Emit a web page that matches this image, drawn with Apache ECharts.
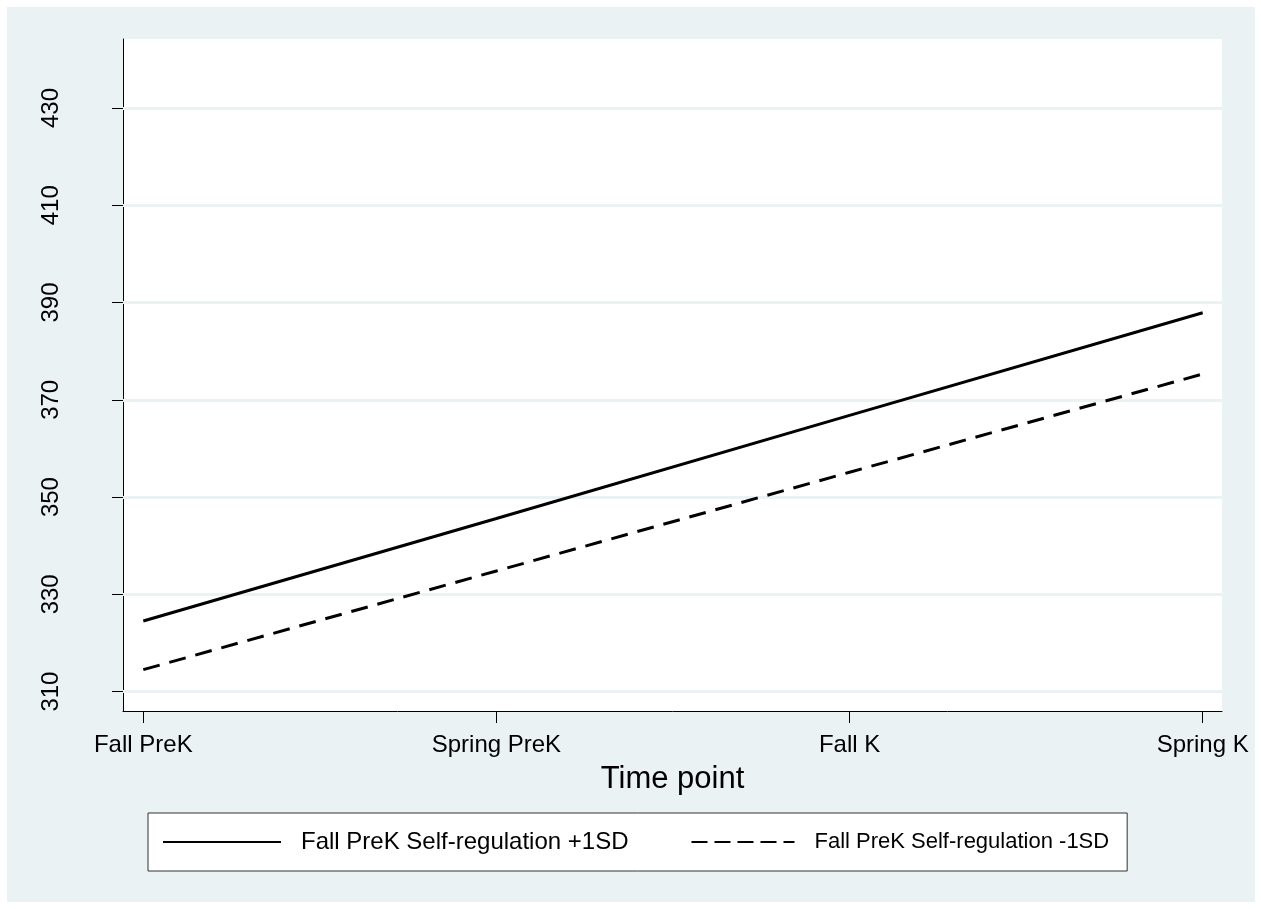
<!DOCTYPE html>
<html>
<head>
<meta charset="utf-8">
<script src="https://cdn.jsdelivr.net/npm/echarts@6/dist/echarts.min.js"></script>
<style>
  html, body { margin: 0; padding: 0; background: #fff; }
  #chart { width: 1261px; height: 909px; }
</style>
</head>
<body>
<div id="chart"></div>
<script>
// time points on the x axis
var timePoints = ['Fall PreK', 'Spring PreK', 'Fall K', 'Spring K'];
// predicted scores
var highSR = [324.5, 345.6, 366.8, 387.9];
var lowSR = [314.5, 334.8, 355.1, 375.3];
var seriesNames = ['Fall PreK Self-regulation +1SD', 'Fall PreK Self-regulation -1SD'];
var yTicks = [310, 330, 350, 370, 390, 410, 430];
var xTicks = [0, 1, 2, 3];

var font = '"Liberation Sans", Arial, Helvetica, sans-serif';
var bg = '#EAF2F3';

function pairs(vals) {
  return vals.map(function (v, i) { return [i, v]; });
}

var chart = echarts.init(document.getElementById('chart'));

chart.setOption({
  animation: false,
  backgroundColor: '#fff',
  textStyle: { fontFamily: font },
  graphic: [
    {
      type: 'rect',
      z: -100,
      shape: { x: 7, y: 7, width: 1248, height: 895 },
      style: { fill: bg }
    }
  ],
  grid: {
    left: 123,
    right: 39,
    top: 39,
    bottom: 198,
    show: true,
    backgroundColor: '#fff',
    borderWidth: 0
  },
  xAxis: {
    type: 'value',
    min: -0.0575,
    max: 3.0547,
    name: 'Time point',
    nameLocation: 'middle',
    nameGap: 53,
    nameTextStyle: { fontSize: 31, color: '#000', fontFamily: font },
    axisLine: { show: true, onZero: false, lineStyle: { color: '#000', width: 1 } },
    axisTick: { show: true, customValues: xTicks, length: 12, lineStyle: { color: '#000' } },
    axisLabel: {
      customValues: xTicks,
      margin: 22,
      fontSize: 24,
      color: '#000',
      fontFamily: font,
      formatter: function (v) { return timePoints[Math.round(v)]; }
    },
    splitLine: { show: false }
  },
  yAxis: {
    type: 'value',
    min: 306.0,
    max: 444.2,
    axisLine: { show: true, onZero: false, lineStyle: { color: '#000', width: 1 } },
    axisTick: { show: true, customValues: yTicks, length: 11, lineStyle: { color: '#000' } },
    axisLabel: {
      customValues: yTicks,
      rotate: 90,
      margin: 60,
      fontSize: 24,
      color: '#000',
      fontFamily: font
    },
    splitLine: { show: false }
  },
  legend: {
    left: 148,
    top: 813,
    orient: 'horizontal',
    data: [
      { name: seriesNames[0], textStyle: { padding: [0, 0, 0, 15] } },
      {
        name: seriesNames[1],
        lineStyle: { type: [16, 7, 16, 7, 16, 7, 16, 7, 11, 100] },
        textStyle: { padding: [0, 0, 0, 0], fontSize: 22 }
      }
    ],
    backgroundColor: '#fff',
    borderColor: '#333',
    borderWidth: 1,
    borderRadius: 0,
    padding: [17, 18, 17, 14],
    itemGap: 62,
    itemWidth: 118,
    itemHeight: 24,
    itemStyle: { opacity: 0 },
    textStyle: { fontSize: 24, color: '#000', fontFamily: font }
  },
  series: [
    {
      // grid lines
      type: 'line',
      name: 'grid',
      data: [],
      z: 1,
      silent: true,
      markLine: {
        silent: true,
        symbol: 'none',
        label: { show: false },
        lineStyle: { color: bg, width: 3, type: 'solid' },
        data: yTicks.map(function (v) { return { yAxis: v }; })
      }
    },
    {
      type: 'line',
      name: seriesNames[0],
      data: pairs(highSR),
      z: 5,
      symbol: 'none',
      lineStyle: { color: '#000', width: 3, type: 'solid' },
      itemStyle: { color: '#000' }
    },
    {
      type: 'line',
      name: seriesNames[1],
      data: pairs(lowSR),
      z: 5,
      symbol: 'none',
      lineStyle: { color: '#000', width: 3, type: [17, 10] },
      itemStyle: { color: '#000' }
    }
  ]
});
</script>
</body>
</html>
